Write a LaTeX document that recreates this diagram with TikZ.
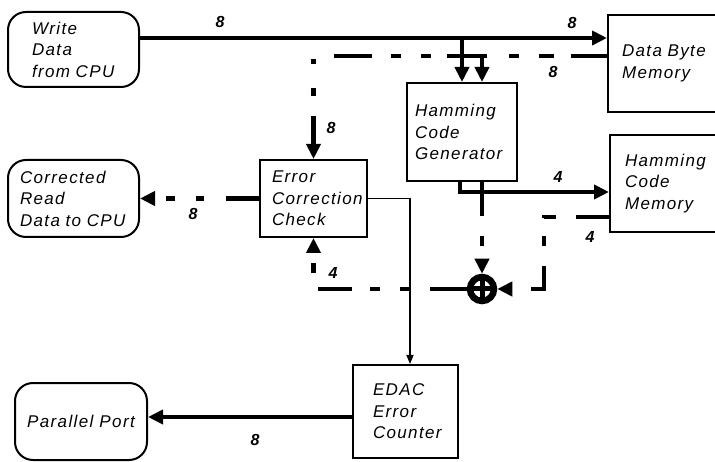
\documentclass[tikz,border=0pt]{standalone}
\usepackage{fontspec}
\setmainfont{Liberation Sans}
\usetikzlibrary{arrows.meta}
\begin{document}
\begin{tikzpicture}[x=1pt,y=-1pt,
  txt/.style={font=\fontsize{17}{21.5}\selectfont\itshape\addfontfeature{LetterSpace=8}},
  box/.style={draw, line width=2pt, txt, align=left, inner sep=0pt},
  rbox/.style={box, rounded corners=18pt},
  bus/.style={line width=4.5pt},
  thinline/.style={line width=1.5pt},
  tip/.style={-{Triangle[length=15pt,width=14pt]}},
  smalltip/.style={-{Triangle[length=9pt,width=7pt]}},
  num/.style={font=\fontsize{16}{18}\selectfont\bfseries\itshape, inner sep=0pt}
]
\useasboundingbox (0,0) rectangle (715,462);

% boxes
\node[rbox, minimum width=131pt, minimum height=75pt, text width=83pt] (wd) at (73.5,49.5) {Write\\Data\\from~CPU};
\node[rbox, minimum width=131pt, minimum height=77pt, text width=107pt] (crd) at (73.5,198.5) {Corrected\\Read\\Data~to~CPU};
\node[rbox, minimum width=132pt, minimum height=77pt, align=center] (pp) at (81,421.5) {Parallel~Port};
\node[box, minimum width=110pt, minimum height=97pt, text width=82pt] (dbm) at (663,63.5) {Data~Byte\\Memory};
\node[box, minimum width=110pt, minimum height=98pt, text width=94pt] (hcg) at (462,132) {Hamming\\Code\\Generator};
\node[box, minimum width=107pt, minimum height=77pt, text width=83pt] (ecc) at (313.5,198.5) {Error\\Correction\\Check};
\node[box, minimum width=108pt, minimum height=97pt, text width=78pt] (hcm) at (664,183.5) {Hamming\\Code\\Memory};
\node[box, minimum width=105pt, minimum height=93pt, text width=65pt] (edac) at (405.5,411.5) {EDAC\\Error\\Counter};
\node[circle, draw, line width=6.5pt, fill=white, minimum size=24pt, inner sep=0pt] (xor) at (482,289) {};
\draw[line width=5pt] (xor.north) -- (xor.south) (xor.west) -- (xor.east);

% write data path
\draw[bus, tip] (wd.east |- 0,38) -- (dbm.west |- 0,38);
\coordinate (jw) at (462,38);
\draw[bus, tip] (jw) -- (jw |- hcg.north);

% read data path (dashed)
\draw[bus, tip, dash pattern=on 36pt off 17pt on 15pt off 20pt on 10pt off 22pt on 40pt off 16pt on 10pt off 20pt on 10pt off 19pt on 38pt off 23.5pt on 5pt off 24pt on 8pt off 20pt on 30pt off 20pt]
  (dbm.west |- 0,56) -| (ecc.north);
\coordinate (jr) at (482,56);
\draw[bus, tip] (jr) -- (jr |- hcg.north);

% generator outputs
\draw[bus, tip] (hcg.south -| 460,0) |- (hcm.west |- 0,192);
\draw[bus, tip, dash pattern=on 34pt off 20pt on 10pt off 40pt] (hcg.south -| xor.north) -- (xor.north);

% stored code to xor
\draw[bus, tip, dash pattern=on 33pt off 20pt on 13pt off 18pt on 10pt off 20pt on 36pt off 40pt]
  (hcm.west |- 0,217) -| (544,289) -- (xor.east);

% syndrome to ECC
\draw[bus, tip, dash pattern=on 37pt off 20pt on 10pt off 20pt on 10pt off 18pt on 34pt off 20pt on 10pt off 30pt]
  (xor.west) -| (ecc.south);

% corrected data out
\draw[bus, tip, dash pattern=on 33pt off 22pt on 8pt off 21pt on 9pt off 30pt] (ecc.west) -- (crd.east);

% error signal to counter
\draw[thinline, smalltip] (ecc.east) -| ([xshift=4.5pt]edac.north);

% counter to parallel port
\draw[bus, tip] (edac.west |- 0,417) -- (pp.east |- 0,417);

% labels
\node[num] (l1) at (220,22) {8};
\node[num] (l2) at (572,23) {8};
\node[num] (l3) at (553,72) {8};
\node[num] (l4) at (331,128) {8};
\node[num] (l5) at (193,214) {8};
\node[num] (l6) at (255,440) {8};
\node[num] (l7) at (558,177) {4};
\node[num] (l8) at (590,237) {4};
\node[num] (l9) at (333,273) {4};
\end{tikzpicture}
\end{document}
